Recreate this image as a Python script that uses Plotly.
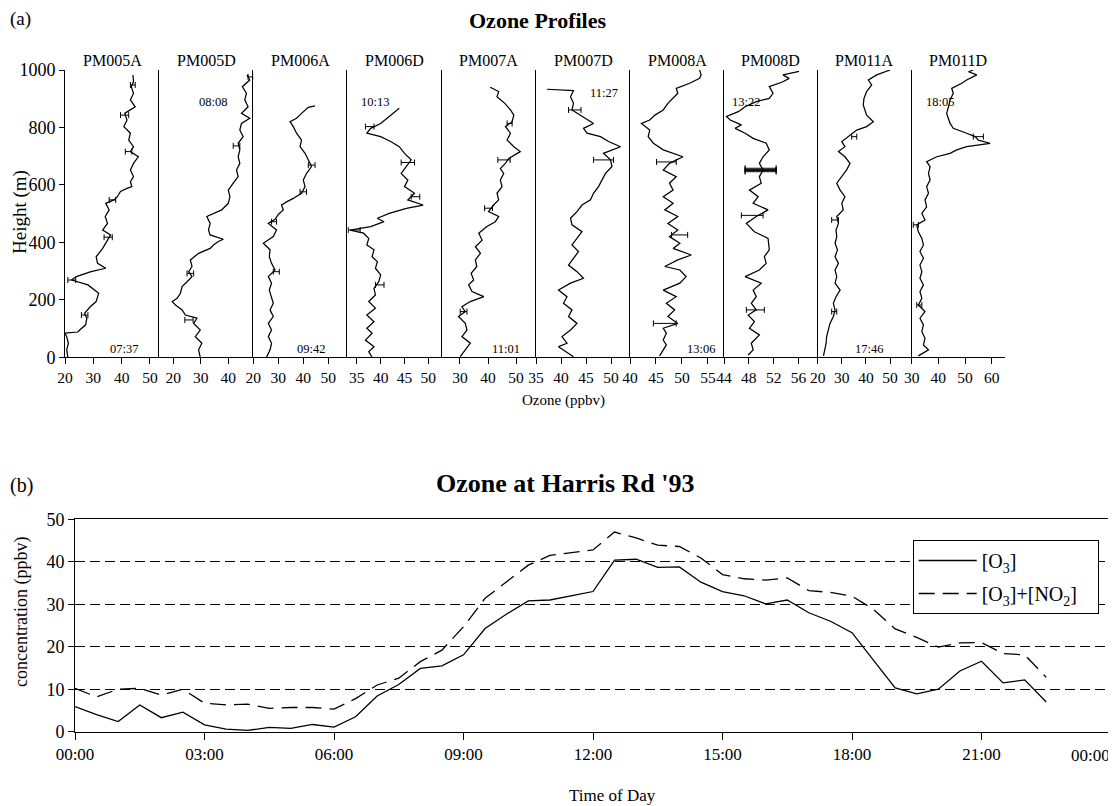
import plotly.graph_objects as go

W, H = 1116, 806          # reference picture size
PAGE_OFFSET = 8           # default body margin of the html page
FW, FH = W - PAGE_OFFSET, H - PAGE_OFFSET
FONT = "Liberation Serif"

# ---------------- data: ozone profiles (ozone ppbv vs height m) ----------------
profile_names = ["PM005A", "PM005D", "PM006A", "PM006D", "PM007A",
                 "PM007D", "PM008A", "PM008D", "PM011A", "PM011D"]
profile_times = ["07:37", "08:08", "09:42", "10:13", "11:01",
                 "11:27", "13:06", "13:22", "17:46", "18:05"]

h_pm005a = [0, 26, 49, 72, 84, 88, 95, 113, 136, 153, 176, 194, 223, 240, 252, 269, 281, 298,
            310, 327, 350, 379, 408, 426, 443, 466, 490, 513, 536, 548, 559, 577, 588, 594, 611, 629,
            652, 675, 698, 716, 733, 756, 780, 803, 826, 849, 872, 896, 919, 942, 959, 983]
o_pm005a = [21, 20.6, 21.2, 20.6, 20.0, 24.5, 25.2, 27.3, 27.7, 26.9, 28.9, 31, 31.9, 29.8, 28.1, 22.3, 24, 29.2,
            34.4, 31.5, 31, 33.3, 35, 36.1, 33.3, 35, 34.2, 35.6, 34.4, 37.3, 38.5, 39.6, 41.9, 43.6, 43.1, 44.2,
            43.1, 44.2, 45.9, 43.1, 44.2, 42.5, 43.1, 40.8, 41.9, 41.1, 44.8, 43.1, 44.2, 43.4, 44.2, 44]

h_pm005d = [0, 26, 49, 72, 95, 118, 136, 147, 165, 182, 194, 205, 223, 246, 263, 281, 298, 316, 339, 362,
            379, 391, 403, 411, 426, 443, 466, 490, 513, 536, 559, 582, 606, 629, 652, 675, 698, 722, 745, 768,
            791, 814, 832, 849, 872, 896, 919, 942, 965, 983]
o_pm005d = [29.8, 29.2, 30.4, 28, 29.8, 27.4, 28.6, 24.4, 23.2, 20.8, 19.6, 21.4, 22.6, 23.2, 25, 26.8, 25.6, 26.8, 26.2, 29.2,
            33.4, 34.6, 36.4, 38.2, 33.4, 32.8, 33.4, 32.2, 37.6, 40, 40.6, 40, 41.8, 43.6, 43, 44.2, 43.6, 44.2, 43.6, 45.4,
            44.2, 44.8, 47.8, 44.8, 47.2, 46, 46.6, 45.1, 47.8, 46.8]

h_pm006a = [0, 26, 49, 72, 95, 118, 142, 165, 188, 211, 234, 258, 281, 304, 327, 350, 374, 397, 420, 443,
            466, 480, 497, 513, 530, 541, 553, 571, 594, 617, 640, 664, 687, 710, 733, 756, 780, 803, 820, 832,
            849, 861, 870, 875]
o_pm006a = [25.3, 26.7, 27.3, 26, 27.3, 26, 28, 26.7, 28, 27.3, 26.4, 27.3, 26, 28.7, 27.3, 26.4, 26.7, 24, 28, 29.3,
            26, 28.7, 30, 32, 31.3, 33.3, 36, 39.3, 40.7, 40, 41.3, 43.3, 42, 40.7, 38.7, 39.3, 37.3, 36, 34.7, 37.3,
            39.3, 40.7, 42, 44.7]

h_pm006d = [0, 20, 37, 60, 84, 101, 124, 147, 171, 194, 217, 240, 263, 287, 310, 333, 350, 374, 391, 414,
            432, 443, 455, 472, 484, 501, 518, 530, 548, 571, 594, 617, 640, 664, 687, 710, 733, 751, 768, 780,
            797, 814, 832, 849, 867]
o_pm006d = [38.2, 37.5, 38.6, 36.8, 38.2, 37.1, 38.6, 37.1, 38.9, 37.5, 38.9, 38.6, 39.6, 40, 38.9, 39.3, 38.2, 38.6, 37.1, 37.5,
            36.4, 33.6, 37.9, 40.7, 39.3, 41.8, 45.4, 48.9, 45.7, 47.1, 45, 45.7, 44.3, 45.4, 46.4, 45, 43.9, 42.1, 40, 37.1,
            37.9, 40, 41.4, 42.5, 43.9]

h_pm007a = [2, 26, 49, 72, 95, 118, 142, 159, 176, 194, 211, 229, 252, 269, 292, 316, 339, 362, 385, 408,
            432, 455, 472, 490, 507, 530, 548, 571, 594, 617, 640, 657, 675, 692, 716, 733, 756, 780, 803, 820,
            843, 861, 884, 907, 925, 940]
o_pm007a = [30.1, 31.9, 33.7, 30.7, 32.5, 31.9, 29.5, 31.9, 30.7, 33.7, 38.5, 34.3, 33.1, 34.9, 34, 36, 35.5, 37.3, 35.5, 37.9,
            36.7, 39.6, 42.6, 43.8, 40.2, 42, 43.8, 43.2, 45, 44.4, 45.6, 44.4, 46.2, 47.4, 51.5, 49.2, 46.8, 48, 46.2, 48.6,
            49.2, 48, 46, 43.2, 43.8, 40.8]

h_pm007d = [2, 20, 37, 49, 72, 95, 118, 142, 165, 188, 211, 234, 258, 275, 298, 321, 345, 368, 391, 414,
            437, 461, 484, 507, 530, 548, 571, 594, 617, 640, 664, 687, 710, 733, 751, 768, 780, 797, 814, 832,
            849, 861, 884, 907, 928, 933]
o_pm007d = [42.5, 40.9, 39.5, 41.2, 40.2, 41.9, 43.2, 41.5, 42.2, 40.5, 41.2, 39.5, 41.9, 44.5, 43.2, 41.5, 42.5, 43.5, 42.2, 43.2,
            44.2, 42.2, 41.9, 43.2, 44.2, 45.9, 46.5, 47.5, 48.2, 48.9, 50.2, 49.9, 48.5, 51.9, 49.5, 47.9, 45.2, 44.5, 46.5, 44.9,
            43.5, 42.2, 42.5, 41.9, 42.5, 37.2]

h_pm008a = [5, 26, 43, 60, 84, 101, 118, 142, 165, 188, 211, 234, 258, 281, 304, 316, 339, 356, 379, 397,
            420, 443, 466, 490, 513, 536, 559, 582, 606, 629, 652, 675, 698, 722, 745, 768, 791, 814, 826, 843,
            861, 884, 901, 919, 936, 954, 971, 983, 1000]
o_pm008a = [45.7, 46.4, 47, 46.4, 47, 46.4, 49.2, 47.3, 48.6, 47, 48.9, 46.4, 49.6, 50.8, 49.6, 46.7, 49.2, 51.8, 48.3, 49.6,
            47.6, 49.2, 47.3, 49.2, 46.7, 48.3, 46.4, 48.3, 47.6, 48.9, 46.4, 47.6, 50.2, 46.4, 44.5, 43.5, 43.8, 42.2, 43.8, 44.8,
            46.4, 47.3, 48.3, 49.2, 48.9, 51.5, 53.4, 53.7, 53.4]

h_pm008d = [8, 26, 49, 78, 101, 124, 147, 165, 188, 211, 234, 258, 281, 304, 327, 350, 374, 414, 437, 466,
            490, 513, 536, 559, 582, 606, 629, 652, 675, 698, 722, 745, 762, 780, 797, 809, 826, 838, 855, 872,
            890, 901, 919, 942, 959, 971, 983, 995]
o_pm008d = [47.9, 48.7, 48.4, 49.7, 48.1, 48.9, 47.9, 49.2, 48.4, 49.2, 48.7, 50, 47.4, 49.7, 50.8, 50.5, 51.3, 51.1, 48.9, 47.6,
            49.2, 51.1, 48.7, 49.5, 48.1, 50, 49.7, 50.3, 49.7, 50.3, 51.3, 50.8, 48.7, 47.4, 45.8, 46.8, 45, 44.4, 46.3, 47.4,
            49.2, 51.3, 51.9, 51.3, 53.5, 54.5, 53.5, 56.1]

h_pm011a = [5, 26, 49, 72, 95, 118, 142, 165, 188, 211, 234, 258, 281, 304, 327, 350, 374, 397, 420, 443,
            466, 490, 513, 536, 559, 582, 606, 629, 652, 675, 698, 716, 733, 751, 768, 791, 803, 820, 843, 861,
            878, 901, 925, 948, 965, 983, 1000]
o_pm011a = [22.4, 23, 23.5, 23.7, 24.4, 25.1, 26.5, 27.2, 26.5, 27.6, 29.3, 27.2, 27.9, 27.2, 28.6, 27.2, 28.2, 27.2, 27.9, 27.6,
            28.6, 27.9, 30.6, 30, 31.3, 29.3, 27.9, 30, 32, 33.4, 31.3, 28.6, 31.3, 30, 32.7, 36.2, 40.3, 43.1, 40.3, 39.6,
            38.9, 39.2, 40.3, 42.4, 41, 44.5, 50]

h_pm011d = [5, 26, 43, 66, 89, 113, 136, 159, 182, 205, 229, 252, 275, 298, 321, 345, 368, 391, 414, 437,
            461, 478, 501, 524, 548, 571, 594, 617, 640, 664, 681, 698, 710, 722, 733, 745, 756, 768, 780, 797,
            814, 832, 849, 872, 896, 919, 936, 954, 965, 983, 994, 1000]
o_pm011d = [32.5, 36.3, 34.4, 35, 33.8, 34.4, 33.1, 35, 32.5, 33.8, 33.1, 34.4, 33.1, 33.8, 33.1, 34.4, 33.1, 34.4, 33.8, 32.5,
            31.9, 35, 33.8, 35.6, 35, 36.3, 35.6, 36.9, 36.3, 36.9, 35.6, 39.4, 44.4, 46.9, 50.6, 59.4, 55, 53.8, 50.6, 45.6,
            44.4, 43.8, 43.1, 43.8, 44.4, 45.6, 45, 48.8, 50.6, 54.4, 51.3, 53.1]

profile_heights = [h_pm005a, h_pm005d, h_pm006a, h_pm006d, h_pm007a,
                   h_pm007d, h_pm008a, h_pm008d, h_pm011a, h_pm011d]
profile_ozone = [o_pm005a, o_pm005d, o_pm006a, o_pm006d, o_pm007a,
                 o_pm007d, o_pm008a, o_pm008d, o_pm011a, o_pm011d]

# horizontal error bars on the profiles: height, low and high ozone, per panel
err_heights = [[269, 147, 418, 548, 716, 843, 948],
               [130, 292, 736, 976],
               [298, 472, 576, 669],
               [252, 443, 559, 678, 803],
               [159, 519, 687, 814],
               [687, 861],
               [118, 426, 680],
               [165, 494, 646, 650, 654, 658],
               [159, 478, 768],
               [182, 461, 768]]
err_low = [[21.0, 25.8, 33.8, 35.6, 41.3, 39.6, 43.1],
           [24.2, 25.0, 41.8, 47.2],
           [28.0, 27.3, 38.7, 42.0],
           [38.9, 33.2, 46.4, 44.3, 36.8],
           [30.1, 38.8, 43.5, 46.8],
           [46.5, 41.5],
           [44.5, 48.0, 45.1],
           [47.6, 46.8, 47.4, 47.4, 47.4, 47.4],
           [25.8, 25.8, 34.1],
           [31.9, 30.6, 53.1]]
err_high = [[23.8, 28.1, 36.7, 37.9, 43.6, 42.5, 44.8],
            [27.2, 27.4, 44.2, 49.0],
            [30.4, 29.3, 41.3, 44.7],
            [40.7, 35.7, 48.2, 47.1, 38.6],
            [32.5, 41.6, 47.9, 48.6],
            [50.5, 44.0],
            [48.9, 51.1, 48.9],
            [50.5, 50.3, 52.4, 52.4, 52.4, 52.4],
            [27.9, 28.6, 36.2],
            [33.8, 32.5, 56.9]]

panel_xranges = [[20, 53.2], [14.8, 49.1], [20, 57.6], [33, 52.8], [23.5, 57.1],
                 [35, 53.8], [40, 58.1], [44, 59.1], [20, 59], [30, 65]]
panel_xticks = [[20, 30, 40, 50], [20, 30, 40], [20, 30, 40, 50], [35, 40, 45, 50], [30, 40, 50],
                [35, 40, 45, 50], [40, 45, 50, 55], [44, 48, 52, 56], [20, 30, 40, 50], [30, 40, 50, 60]]
height_ticks = [0, 200, 400, 600, 800, 1000]

# ---------------- data: Harris Rd surface ozone ----------------
times = ["00:00", "00:30", "01:00", "01:30", "02:00", "02:30", "03:00", "03:30", "04:00", "04:30",
         "05:00", "05:30", "06:00", "06:30", "07:00", "07:30", "08:00", "08:30", "09:00", "09:30",
         "10:00", "10:30", "11:00", "11:30", "12:00", "12:30", "13:00", "13:30", "14:00", "14:30",
         "15:00", "15:30", "16:00", "16:30", "17:00", "17:30", "18:00", "18:30", "19:00", "19:30",
         "20:00", "20:30", "21:00", "21:30", "22:00", "22:30"]
o3 = [5.9, 4.0, 2.4, 6.3, 3.3, 4.6, 1.6, 0.6, 0.3, 1.0,
      0.8, 1.7, 1.1, 3.5, 8.4, 11.1, 14.9, 15.5, 18.1, 24.3,
      27.7, 30.8, 31.0, 32.0, 33.0, 40.4, 40.6, 38.7, 38.8, 35.2,
      33.0, 32.0, 30.1, 31.0, 28.0, 26.0, 23.3, 16.8, 10.3, 8.9,
      10.0, 14.3, 16.6, 11.5, 12.2, 7.0]
o3_no2 = [10.2, 8.2, 10.0, 10.2, 8.6, 10.0, 6.7, 6.3, 6.5, 5.5,
          5.7, 5.7, 5.3, 7.8, 11.0, 12.6, 16.5, 19.2, 24.7, 31.4,
          35.3, 39.2, 41.5, 42.2, 42.8, 47.0, 45.6, 43.9, 43.6, 40.9,
          37.0, 36.0, 35.7, 36.2, 33.2, 32.8, 31.9, 28.8, 24.2, 22.2,
          19.9, 20.9, 21.0, 18.4, 18.1, 12.8]
time_tickvals = [0, 3, 6, 9, 12, 15, 18, 21, 24]
time_ticktext = ["00:00", "03:00", "06:00", "09:00", "12:00", "15:00", "18:00", "21:00", "00:00"]
conc_ticks = [0, 10, 20, 30, 40, 50]

hours = [int(t[:2]) + int(t[3:]) / 60 for t in times]

# ---------------- layout helpers (reference pixel -> paper fraction) ----------------
def fx(px):
    return (px - PAGE_OFFSET) / FW

def fy(py):
    return 1 - (py - PAGE_OFFSET) / FH

panel_edges = [65, 159, 253.3, 347.3, 441.7, 536, 630, 724, 817.7, 911.7, 1005]
top_y0, top_y1 = 357.3, 70
time_label_pos = [(0.63, 0.03), (0.57, 0.89), (0.61, 0.03), (0.29, 0.89), (0.68, 0.03),
                  (0.72, 0.92), (0.755, 0.03), (0.235, 0.89), (0.546, 0.03), (0.30, 0.89)]

fig = go.Figure()
layout = dict(
    width=FW, height=FH,
    margin=dict(l=0, r=0, t=0, b=0, autoexpand=False),
    paper_bgcolor="white", plot_bgcolor="white",
    font=dict(family=FONT, color="black"),
    showlegend=True,
)
annotations = []

for i in range(10):
    n = i + 1
    xa = "x" if n == 1 else f"x{n}"
    ya = "y" if n == 1 else f"y{n}"
    fig.add_trace(go.Scatter(
        x=profile_ozone[i], y=profile_heights[i], mode="lines",
        line=dict(color="black", width=1.25),
        xaxis=xa, yaxis=ya, showlegend=False, hoverinfo="skip"))
    centers = [(lo + hi) / 2 for lo, hi in zip(err_low[i], err_high[i])]
    fig.add_trace(go.Scatter(
        x=centers, y=err_heights[i], mode="markers",
        marker=dict(size=1, color="rgba(0,0,0,0)"),
        error_x=dict(type="data", symmetric=False,
                     array=[hi - c for hi, c in zip(err_high[i], centers)],
                     arrayminus=[c - lo for lo, c in zip(err_low[i], centers)],
                     color="black", thickness=1, width=3),
        xaxis=xa, yaxis=ya, showlegend=False, hoverinfo="skip"))
    xkey = "xaxis" if n == 1 else f"xaxis{n}"
    ykey = "yaxis" if n == 1 else f"yaxis{n}"
    layout[xkey] = dict(
        domain=[fx(panel_edges[i]), fx(panel_edges[i + 1])],
        anchor=ya, range=panel_xranges[i], tickvals=panel_xticks[i],
        ticks="outside", ticklen=6, tickcolor="black", tickwidth=1,
        showline=True, linecolor="black", linewidth=1,
        showgrid=False, zeroline=False, automargin=False,
        tickfont=dict(family=FONT, size=15.5, color="black"),
    )
    ydict = dict(
        domain=[fy(top_y0), fy(top_y1)], anchor=xa, range=[0, 1000],
        showline=True, linecolor="black", linewidth=1,
        showgrid=False, zeroline=False, automargin=False,
    )
    if n == 1:
        ydict.update(tickvals=height_ticks, ticks="outside", ticklen=5,
                     tickcolor="black", tickfont=dict(family=FONT, size=18, color="black"))
    else:
        ydict.update(showticklabels=False, ticks="")
    layout[ykey] = ydict
    # panel name
    annotations.append(dict(
        text=profile_names[i], xref="paper", yref="paper",
        x=fx((panel_edges[i] + panel_edges[i + 1]) / 2), y=fy(60),
        showarrow=False, xanchor="center", yanchor="middle",
        font=dict(family=FONT, size=16, color="black")))
    # time label
    tx, ty = time_label_pos[i]
    annotations.append(dict(
        text=profile_times[i], xref=f"{xa} domain", yref=f"{ya} domain",
        x=tx, y=ty, showarrow=False, xanchor="center", yanchor="middle",
        font=dict(family=FONT, size=12.5, color="black")))

# bottom chart
fig.add_trace(go.Scatter(
    x=hours, y=o3, mode="lines", name="[O<sub>3</sub>]",
    line=dict(color="black", width=1.3),
    xaxis="x11", yaxis="y11", legendgroup="a"))
fig.add_trace(go.Scatter(
    x=hours, y=o3_no2, mode="lines",
    name="[O<sub>3</sub>]+[NO<sub>2</sub>]\u00a0\u00a0\u00a0",
    line=dict(color="black", width=1.3, dash="16px,8px"),
    xaxis="x11", yaxis="y11", legendgroup="b"))

layout["xaxis11"] = dict(
    domain=[fx(75), fx(1111)], anchor="y11", range=[0, 24],
    tickvals=time_tickvals, ticktext=time_ticktext[:-1] + [" "],
    ticks="outside", ticklen=7, tickcolor="black",
    showline=True, linecolor="black", linewidth=1, mirror=True,
    showgrid=False, zeroline=False, automargin=False,
    tickfont=dict(family=FONT, size=17, color="black"))
layout["yaxis11"] = dict(
    domain=[fy(731.7), fy(519.3)], anchor="x11", range=[0, 50],
    tickvals=conc_ticks, ticks="outside", ticklen=6, tickcolor="black",
    showline=True, linecolor="black", linewidth=1, mirror=True,
    showgrid=True, gridcolor="black", gridwidth=1, griddash="10px,5px",
    zeroline=False, automargin=False,
    tickfont=dict(family=FONT, size=18, color="black"))

layout["legend"] = dict(
    x=fx(912.7), y=fy(540), xanchor="left", yanchor="top",
    bordercolor="black", borderwidth=1, bgcolor="white",
    font=dict(family=FONT, size=20, color="black"),
    itemwidth=58, traceorder="grouped", tracegroupgap=4)

annotations += [
    dict(text="(a)", x=fx(20), y=fy(19), size=19),
    dict(text="<b>Ozone Profiles</b>", x=fx(537), y=fy(21), size=22),
    dict(text="Height (m)", x=fx(20), y=fy(212), size=19, textangle=-90),
    dict(text="Ozone (ppbv)", x=fx(563), y=fy(401), size=15),
    dict(text="(b)", x=fx(22), y=fy(485), size=20),
    dict(text="<b>Ozone at Harris Rd '93</b>", x=fx(565), y=fy(483), size=26),
    dict(text="concentration (ppbv)", x=fx(21), y=fy(612), size=18, textangle=-90),
    dict(text="Time of Day", x=fx(612), y=fy(795), size=17),
    dict(text=time_ticktext[-1], x=fx(1090), y=fy(755), size=17),
]
final_ann = []
for a in annotations:
    if "xref" in a:
        final_ann.append(a)
        continue
    size = a.pop("size", 17)
    angle = a.pop("textangle", 0)
    a.update(xref="paper", yref="paper", showarrow=False, xanchor="center",
             yanchor="middle", textangle=angle,
             font=dict(family=FONT, size=size, color="black"))
    final_ann.append(a)
layout["annotations"] = final_ann

fig.update_layout(**layout)
fig.write_html("out.html")
